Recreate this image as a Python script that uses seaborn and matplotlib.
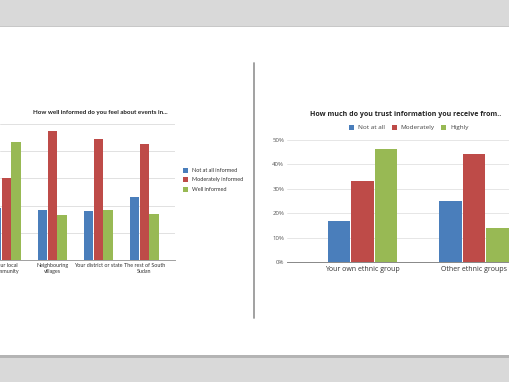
import matplotlib
matplotlib.use("Agg")
import matplotlib.pyplot as plt
import seaborn as sns
import pandas as pd
from matplotlib.patches import Rectangle
from matplotlib.lines import Line2D

# ---- data ----
left_title = "How well informed do you feel about events in..."
left_categories = ["Your local\ncommunity", "Neighbouring\nvillages", "Your district or state", "The rest of South\nSudan"]
left_series = ["Not at all informed", "Moderately informed", "Well informed"]
left_not_at_all = [19.0, 18.4, 18.0, 23.3]
left_moderately = [30.0, 47.5, 44.6, 42.6]
left_well = [43.3, 16.5, 18.5, 16.8]

right_title = "How much do you trust information you receive from.."
right_categories = ["Your own ethnic group", "Other ethnic groups"]
right_series = ["Not at all", "Moderately", "Highly"]
right_not_at_all = [16.7, 25.0]
right_moderately = [33.2, 44.3]
right_highly = [46.3, 13.8]
right_yticks = [0, 10, 20, 30, 40, 50]
right_yticklabels = ["0%", "10%", "20%", "30%", "40%", "50%"]

colors = ["#4a7ebb", "#be4b48", "#98b954"]

W, H = 510, 382
sns.set_theme(style="white")
plt.rcParams['font.family'] = ['Open Sans', 'DejaVu Sans']

fig = plt.figure(figsize=(W / 100, H / 100), dpi=100)
fig.patch.set_facecolor("white")

def fx(px):
    return px / W

def fy(py):
    return 1 - py / H

# slide background bands
fig.patches.append(Rectangle((0, fy(25.5)), 1, 25.5 / H, transform=fig.transFigure,
                             facecolor="#d9d9d9", edgecolor="none", zorder=0))
fig.patches.append(Rectangle((0, fy(26.5)), 1, 1 / H, transform=fig.transFigure,
                             facecolor="#c8c8c8", edgecolor="none", zorder=0))
fig.patches.append(Rectangle((0, 0), 1, (H - 355) / H, transform=fig.transFigure,
                             facecolor="#d9d9d9", edgecolor="none", zorder=0))
fig.patches.append(Rectangle((0, fy(357.5)), 1, 2.5 / H, transform=fig.transFigure,
                             facecolor="#b4b4b4", edgecolor="none", zorder=0))
# divider
fig.lines.append(Line2D([fx(254), fx(254)], [fy(63), fy(318)], transform=fig.transFigure,
                        color="#9a9a9a", lw=1.3))

def make_df(cats, series, vals):
    rows = []
    for s, v in zip(series, vals):
        for c, x in zip(cats, v):
            rows.append({"cat": c, "series": s, "value": x})
    return pd.DataFrame(rows)

# ---- left chart ----
axL = fig.add_axes([0, fy(260), fx(175), 136 / H])
dfL = make_df(left_categories, left_series, [left_not_at_all, left_moderately, left_well])
sns.barplot(data=dfL, x="cat", y="value", hue="series", palette=colors, ax=axL,
            width=0.65, gap=0.06, legend=False, saturation=1, linewidth=0, zorder=3)
axL.set_xlim(-0.135, 3.67)
axL.set_ylim(0, 50)
axL.set_yticks([0, 10, 20, 30, 40, 50])
axL.yaxis.grid(True, color="#dcdcdc", lw=0.6, zorder=0)
axL.set_yticklabels([])
axL.tick_params(axis="y", length=0)
axL.tick_params(axis="x", length=0, labelsize=3.9, colors="#333333", pad=2)
for lab in axL.get_xticklabels():
    lab.set_family("Lato")
for side in ["top", "right", "left"]:
    axL.spines[side].set_visible(False)
axL.spines["bottom"].set_color("#a0a0a0")
axL.spines["bottom"].set_linewidth(0.7)
axL.set_xlabel("")
axL.set_ylabel("")
axL.set_facecolor("none")

fig.text(fx(100), fy(112.7), left_title, ha="center", va="center", fontsize=4.5,
         fontweight="bold", color="#222222", family="Lato")
for i, (s, c) in enumerate(zip(left_series, colors)):
    yy = 170.7 + i * 9.2
    fig.patches.append(Rectangle((fx(183.5), fy(yy + 2.5)), 5 / W, 5 / H, transform=fig.transFigure,
                                 facecolor=c, edgecolor="none"))
    fig.text(fx(192), fy(yy), s, ha="left", va="center", fontsize=4.0, color="#333333", family="Lato")

# ---- right chart ----
axR = fig.add_axes([fx(287), fy(262), 1 - fx(287), 122 / H])
dfR = make_df(right_categories, right_series, [right_not_at_all, right_moderately, right_highly])
sns.barplot(data=dfR, x="cat", y="value", hue="series", palette=colors, ax=axR,
            width=0.634, gap=0.05, legend=False, saturation=1, linewidth=0, zorder=3)
axR.set_xlim(-0.677, 1.323)
axR.set_ylim(0, 50)
axR.set_yticks(right_yticks)
axR.set_yticklabels(right_yticklabels)
axR.yaxis.grid(True, color="#e2e2e2", lw=0.6, zorder=0)
axR.tick_params(axis="y", length=0, labelsize=4.4, colors="#555555", pad=2)
axR.tick_params(axis="x", length=0, labelsize=5.0, colors="#333333", pad=3)
for side in ["top", "right", "left"]:
    axR.spines[side].set_visible(False)
axR.spines["bottom"].set_color("#888888")
axR.spines["bottom"].set_linewidth(0.7)
axR.set_xlabel("")
axR.set_ylabel("")
axR.set_facecolor("none")

fig.text(fx(310), fy(114), right_title, ha="left", va="center", fontsize=5.05,
         fontweight="bold", color="#222222")
leg_x = [349.5, 391.5, 441.5]
for s, c, x0 in zip(right_series, colors, leg_x):
    fig.patches.append(Rectangle((fx(x0), fy(129.8)), 5 / W, 5 / H, transform=fig.transFigure,
                                 facecolor=c, edgecolor="none"))
    fig.text(fx(x0 + 9), fy(127.3), s, ha="left", va="center", fontsize=4.6, color="#444444")

fig.savefig("out.png", dpi=100)
